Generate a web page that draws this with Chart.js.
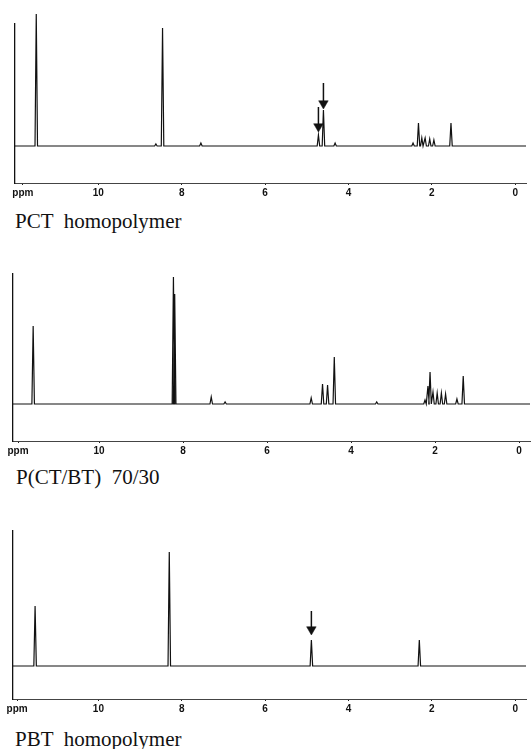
<!DOCTYPE html>
<html>
<head>
<meta charset="utf-8">
<script src="https://cdn.jsdelivr.net/npm/chart.js@4.4.1/dist/chart.umd.min.js"></script>
<style>
  body { margin: 0; background: #fff; }
  #page { position: relative; width: 532px; height: 749px; overflow: hidden; }
  canvas { position: absolute; left: 0; }
  .cap { position: absolute; font-family: "Liberation Serif", "DejaVu Serif", serif; font-size: 21px; color: #111; white-space: pre; line-height: 20px; }
</style>
</head>
<body>
<div id="page">
  <canvas id="c1" width="532" height="203" style="top:0px"></canvas>
  <canvas id="c2" width="532" height="221" style="top:240px"></canvas>
  <canvas id="c3" width="532" height="219" style="top:500px"></canvas>
  <div class="cap" style="left:15px; top:211px">PCT  homopolymer</div>
  <div class="cap" style="left:16px; top:467px">P(CT/BT)  70/30</div>
  <div class="cap" style="left:15px; top:729px">PBT  homopolymer</div>
</div>
<script>
const tickValues = [10, 8, 6, 4, 2, 0];
const tickLabels = ["10", "8", "6", "4", "2", "0"];

const pctPpm = [11.49, 8.62, 8.46, 7.54, 4.72, 4.60, 4.32, 2.45, 2.32, 2.24, 2.16, 2.05, 1.95, 1.54];
const pctHeight = [132, 2, 118, 3, 11, 36, 3, 3, 23, 8, 8, 7, 6, 23];

const copPpm = [11.57, 8.23, 8.20, 7.33, 7.00, 4.95, 4.68, 4.56, 4.40, 3.39, 2.24, 2.17, 2.12, 2.05, 1.95, 1.85, 1.75, 1.48, 1.33];
const copHeight = [78, 127, 110, 7, 2, 6, 20, 19, 47, 2, 4, 18, 32, 12, 11, 11, 10, 5, 28];

const pbtPpm = [11.52, 8.30, 4.89, 2.30];
const pbtHeight = [60, 114, 26, 26];

// setas: ppm, topo e ponta (mesma unidade da altura)
const pctArrowPpm = [4.72, 4.60];
const pctArrowTop = [39, 63];
const pctArrowTip = [14, 37];
const pbtArrowPpm = [4.89];
const pbtArrowTop = [55];
const pbtArrowTip = [31];

// monta a linha do espectro a partir da lista de picos
function montarEspectro(ppm, alt, xMax, xMin) {
    const w = 0.03;
    const pts = [{ x: xMax, y: 0 }];
    ppm.forEach((p, i) => {
        pts.push({ x: p + w, y: 0 });
        pts.push({ x: p, y: alt[i] });
        pts.push({ x: p - w, y: 0 });
    });
    pts.push({ x: xMin, y: 0 });
    return pts;
}

// cada seta vira um dataset: haste + triângulo apontando para baixo
function montarSetas(ppm, topo, ponta) {
    const r = 5.5;
    return (ppm || []).map((p, i) => ({
        data: [{ x: p, y: topo[i] }, { x: p, y: ponta[i] + r }],
        borderColor: "#111",
        borderWidth: 1.5,
        pointRadius: [0, r],
        pointStyle: "triangle",
        rotation: 180,
        pointBackgroundColor: "#111",
        pointBorderColor: "#111",
        pointBorderWidth: 0.5
    }));
}

function criarPainel(id, ppm, alt, cfg) {
    const xMax = cfg.xMax, xMin = -0.26;
    // ordem da esquerda para a direita (eixo invertido): "ppm" primeiro
    const ticks = [{ value: cfg.ppmPos }].concat(tickValues.map(v => ({ value: v })));
    const datasets = [{
        data: montarEspectro(ppm, alt, xMax, xMin),
        borderColor: "#111",
        borderWidth: 1.2,
        pointRadius: 0,
        tension: 0,
        clip: false
    }].concat(montarSetas(cfg.arrowPpm, cfg.arrowTop, cfg.arrowTip));

    new Chart(document.getElementById(id), {
        type: "line",
        data: { datasets: datasets },
        options: {
            responsive: false,
            animation: false,
            layout: { padding: { left: cfg.left, right: 2, top: cfg.top, bottom: 0 } },
            plugins: {
                legend: { display: false },
                tooltip: { enabled: false }
            },
            scales: {
                x: {
                    type: "linear",
                    reverse: true,
                    min: xMin,
                    max: xMax,
                    afterBuildTicks: s => { s.ticks = ticks; },
                    afterFit: s => { s.height = 20; },
                    grid: { display: true, drawOnChartArea: false, drawTicks: true, tickLength: 2, color: "#222" },
                    border: { display: true, color: "#444", width: 1 },
                    ticks: {
                        autoSkip: false,
                        maxRotation: 0,
                        padding: 2,
                        color: "#111",
                        font: { family: "Liberation Sans", size: 10, weight: "bold" },
                        callback: v => {
                            const k = tickValues.indexOf(v);
                            return k >= 0 ? tickLabels[k] : "ppm";
                        }
                    }
                },
                y: {
                    display: true,
                    min: cfg.yMin,
                    max: cfg.yMax,
                    afterFit: s => { s.width = 0; },
                    grid: { display: false, drawTicks: false },
                    border: { display: true, color: "#111", width: 1.3 },
                    ticks: { display: false }
                }
            }
        }
    });
}

criarPainel("c1", pctPpm, pctHeight, {
    xMax: 12.0, left: 15, top: 24, yMin: -37, yMax: 122, ppmPos: 11.81,
    arrowPpm: pctArrowPpm, arrowTop: pctArrowTop, arrowTip: pctArrowTip
});
criarPainel("c2", copPpm, copHeight, {
    xMax: 12.05, left: 13, top: 34, yMin: -37, yMax: 130, ppmPos: 11.93
});
criarPainel("c3", pbtPpm, pbtHeight, {
    xMax: 12.05, left: 13, top: 31, yMin: -33, yMax: 135, ppmPos: 11.95,
    arrowPpm: pbtArrowPpm, arrowTop: pbtArrowTop, arrowTip: pbtArrowTip
});
</script>
</body>
</html>
